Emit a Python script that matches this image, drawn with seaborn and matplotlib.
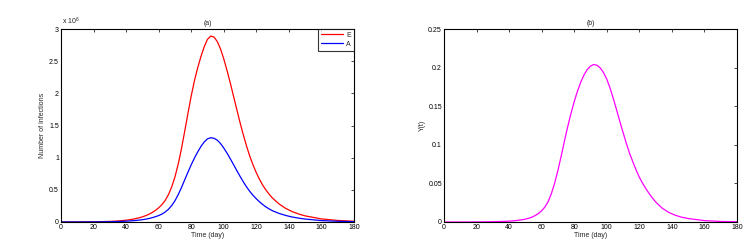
import matplotlib
matplotlib.use('Agg')
import matplotlib.pyplot as plt
import seaborn as sns
import pandas as pd

days = [0, 10, 20, 30, 35, 40, 44, 48, 50, 52, 54, 56, 58, 60, 62, 64, 66, 68, 70, 72,
        74, 76, 78, 80, 82, 84, 86, 88, 90, 92, 94, 96, 98, 100, 102, 104, 106, 108, 110,
        112, 114, 116, 118, 120, 122, 124, 126, 128, 130, 134, 138, 142, 146, 150, 160,
        170, 180]

# panel (a), in millions
E = [0.0003, 0.001, 0.003, 0.009, 0.016, 0.028, 0.043, 0.065, 0.08, 0.098, 0.12, 0.147,
     0.18, 0.22, 0.27, 0.335, 0.425, 0.545, 0.70, 0.90, 1.14, 1.41, 1.69, 1.96, 2.20,
     2.40, 2.575, 2.725, 2.84, 2.89, 2.875, 2.805, 2.69, 2.535, 2.355, 2.16, 1.955, 1.748,
     1.545, 1.355, 1.18, 1.02, 0.885, 0.765, 0.66, 0.57, 0.493, 0.428, 0.37, 0.28,
     0.212, 0.162, 0.124, 0.095, 0.048, 0.024, 0.012]
A = [0.0001, 0.0005, 0.0014, 0.004, 0.007, 0.0127, 0.0195, 0.0295, 0.036, 0.044, 0.054,
     0.067, 0.082, 0.10, 0.123, 0.155, 0.198, 0.255, 0.33, 0.425, 0.535, 0.655, 0.775,
     0.89, 0.995, 1.09, 1.175, 1.245, 1.293, 1.31, 1.302, 1.272, 1.22, 1.15, 1.07, 0.983,
     0.892, 0.80, 0.71, 0.625, 0.545, 0.475, 0.414, 0.36, 0.312, 0.27, 0.233, 0.201,
     0.174, 0.133, 0.102, 0.078, 0.06, 0.046, 0.022, 0.011, 0.005]
# panel (b)
Y = [0.0, 0.0, 0.0001, 0.0004, 0.0007, 0.0011, 0.0018, 0.0029, 0.0037, 0.0048, 0.0063,
     0.0083, 0.011, 0.0145, 0.0195, 0.0265, 0.037, 0.0505, 0.067, 0.0855, 0.105, 0.1235,
     0.1405, 0.156, 0.1695, 0.181, 0.1905, 0.1975, 0.202, 0.204, 0.203, 0.1995, 0.1935,
     0.185, 0.1735, 0.160, 0.1455, 0.1305, 0.116, 0.102, 0.089, 0.078, 0.0675, 0.058,
     0.0502, 0.0432, 0.0369, 0.0312, 0.026, 0.018, 0.0125, 0.0088, 0.0062, 0.0045,
     0.0018, 0.0007, 0.0003]

yticks_a = [0, 0.5, 1, 1.5, 2, 2.5, 3]
ylabels_a = ['0', '0.5', '1', '1.5', '2', '2.5', '3']
yticks_b = [0, 0.05, 0.1, 0.15, 0.2, 0.25]
ylabels_b = ['0', '0.05', '0.1', '0.15', '0.2', '0.25']

df = pd.DataFrame({'t': days, 'E': E, 'A': A, 'Y': Y})

sns.set_style('white')
plt.rcParams['font.family'] = ['Liberation Sans', 'DejaVu Sans']
plt.rcParams['mathtext.fontset'] = 'custom'
plt.rcParams['mathtext.rm'] = 'Liberation Sans'
plt.rcParams['mathtext.it'] = 'Liberation Sans:italic'
fs = 5

fig = plt.figure(figsize=(7.54, 2.46), dpi=100)
ax1 = fig.add_axes([61/754, 24/246, 293/754, 193/246])
ax2 = fig.add_axes([444/754, 24/246, 293/754, 193/246])

sns.lineplot(data=df, x='t', y='E', ax=ax1, color='#ff0000', lw=0.9, label='E')
sns.lineplot(data=df, x='t', y='A', ax=ax1, color='#0000ff', lw=0.9, label='A')
sns.lineplot(data=df, x='t', y='Y', ax=ax2, color='#ff00ff', lw=0.9)

for ax in (ax1, ax2):
    ax.set_xlim(0, 180)
    ax.set_xticks(range(0, 181, 20))
    ax.tick_params(direction='in', length=2, width=0.5, labelsize=fs, pad=1.5,
                   top=True, right=True, colors='black')
    for s in ax.spines.values():
        s.set_linewidth(0.8)
        s.set_color('black')
    ax.set_xlabel('Time (day)', fontsize=fs, labelpad=1)

ax1.set_ylim(0, 3)
ax1.set_yticks(yticks_a)
ax1.set_yticklabels(ylabels_a)
ax1.text(0.005, 1.008, r'x 10$^{6}$', transform=ax1.transAxes, fontsize=fs,
         ha='left', va='bottom')
ax1.set_ylabel('Number of infections', fontsize=fs, labelpad=2)
ax1.set_title('(a)', fontsize=fs, pad=3)
leg = ax1.legend(loc='upper right', fontsize=fs, frameon=True, fancybox=False,
                 handlelength=3.2, borderpad=0.4, labelspacing=0.3, handletextpad=0.5,
                 borderaxespad=0)
leg.get_frame().set_edgecolor('black')
leg.get_frame().set_linewidth(0.8)

ax2.set_ylim(0, 0.25)
ax2.set_yticks(yticks_b)
ax2.set_yticklabels(ylabels_b)
ax2.set_ylabel('Y(t)', fontsize=fs, labelpad=2)
ax2.set_title('(b)', fontsize=fs, pad=3)

fig.savefig('out.png', dpi=100)
